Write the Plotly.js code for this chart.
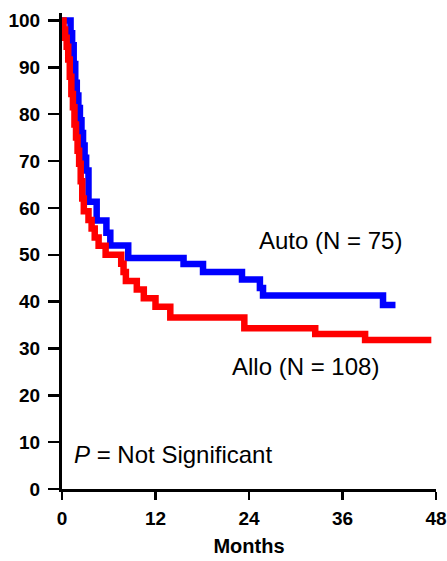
<!DOCTYPE html>
<html>
<head>
<meta charset="utf-8">
<script src="https://cdn.plot.ly/plotly-3.0.1.min.js"></script>
<style>html,body{margin:0;padding:0;background:#fff;}#chart{width:447px;height:561px;}</style>
</head>
<body>
<div id="chart"></div>
<script>
// Auto (N = 75) Kaplan-Meier steps: months and survival (%)
var autoMonths = [0, 1.1, 1.3, 1.5, 1.7, 1.9, 2.1, 2.3, 2.5, 2.7, 2.9, 3.1, 3.4, 4.45, 5.7, 6.2, 8.5, 15.6, 18.1, 23.1, 25.4, 25.8, 41.2, 42.8];
var autoSurv   = [100, 97.3, 94.7, 90.7, 86.7, 84.0, 81.3, 78.7, 76.0, 73.3, 70.7, 68.0, 61.3, 57.3, 54.7, 52.0, 49.3, 48.0, 46.3, 44.7, 42.9, 41.3, 39.3, 39.3];

// Allo (N = 108) Kaplan-Meier steps
var alloMonths = [0, 0.2, 0.4, 0.6, 0.8, 1.0, 1.2, 1.4, 1.6, 1.8, 2.0, 2.2, 2.4, 2.6, 2.8, 3.4, 3.8, 4.2, 4.7, 5.6, 7.6, 7.9, 8.2, 9.6, 10.5, 12.0, 13.9, 23.4, 32.5, 38.9, 47.4];
var alloSurv   = [100, 98.1, 96.3, 94.4, 91.7, 88.0, 84.3, 81.5, 77.8, 75.0, 72.2, 69.4, 65.7, 62.0, 59.3, 57.4, 55.6, 53.7, 51.9, 50.0, 48.1, 46.3, 44.4, 42.6, 40.7, 38.9, 36.6, 34.3, 33.1, 31.8, 31.8];

var xTicks = [0, 12, 24, 36, 48];
var yTicks = [0, 10, 20, 30, 40, 50, 60, 70, 80, 90, 100];

var autoLabel = 'Auto (N = 75)';
var alloLabel = 'Allo (N = 108)';
var pLabel = '<i>P</i> = Not Significant';
var xTitle = 'Months';

var traces = [
  {x: autoMonths, y: autoSurv, type: 'scatter', mode: 'lines', line: {shape: 'hv', color: '#0000FF', width: 6.5}, name: autoLabel, hoverinfo: 'skip'},
  {x: alloMonths, y: alloSurv, type: 'scatter', mode: 'lines', line: {shape: 'hv', color: '#FF0000', width: 6.5}, name: alloLabel, hoverinfo: 'skip'}
];

var tickFont = {family: 'Liberation Sans, Arial, sans-serif', size: 19, color: '#000'};
var titleFont = {family: 'Liberation Sans, Arial, sans-serif', size: 20, color: '#000'};
var annFont = {family: 'Liberation Sans, Arial, sans-serif', size: 24, color: '#000'};

var layout = {
  width: 447, height: 561,
  margin: {l: 62, r: 11, t: 13, b: 72},
  paper_bgcolor: '#fff', plot_bgcolor: '#fff',
  showlegend: false,
  xaxis: {
    range: [0, 48], tickvals: xTicks, ticktext: xTicks.map(function(v){return '<b>'+v+'</b>';}),
    showgrid: false, zeroline: false, showline: true, linecolor: '#000', linewidth: 3,
    ticks: 'outside', ticklen: 8, tickwidth: 2.5, tickcolor: '#000', tickfont: tickFont,
    ticklabelstandoff: 2,
    title: {text: '<b>' + xTitle + '</b>', font: titleFont, standoff: 12}
  },
  yaxis: {
    range: [0, 101.6], tickvals: yTicks, ticktext: yTicks.map(function(v){return '<b>'+v+'</b>';}),
    showgrid: false, zeroline: false, showline: true, linecolor: '#000', linewidth: 3,
    ticks: 'outside', ticklen: 11, tickwidth: 2.5, tickcolor: '#000', tickfont: tickFont,
    ticklabelstandoff: 4
  },
  annotations: [
    {x: 34.4, y: 53.0, xref: 'x', yref: 'y', text: autoLabel, showarrow: false, font: annFont},
    {x: 31.2, y: 26.1, xref: 'x', yref: 'y', text: alloLabel, showarrow: false, font: annFont},
    {x: 14.25, y: 7.3, xref: 'x', yref: 'y', text: pLabel, showarrow: false, font: annFont}
  ]
};

Plotly.newPlot('chart', traces, layout, {displayModeBar: false, staticPlot: true});
</script>
</body>
</html>
